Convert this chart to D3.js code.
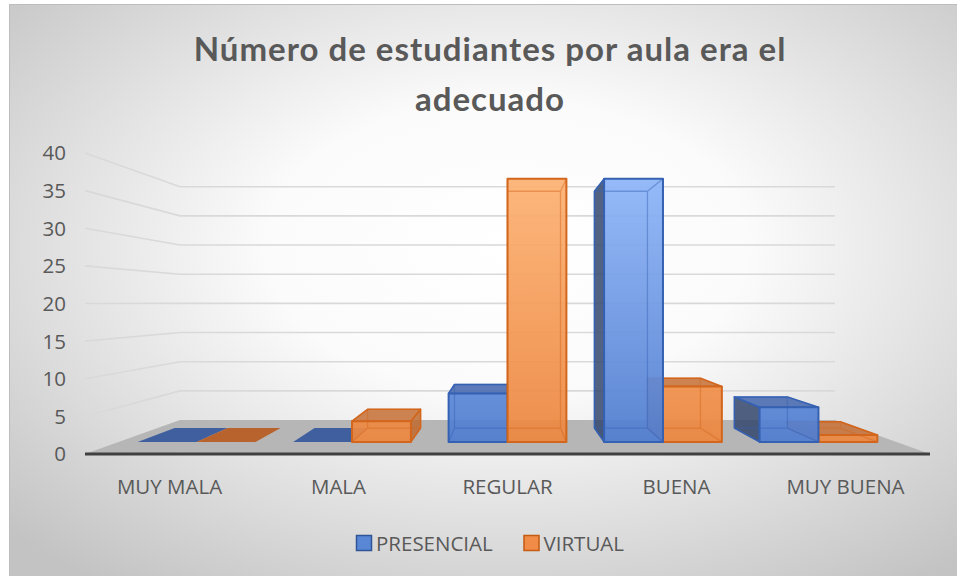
<!DOCTYPE html>
<html>
<head>
<meta charset="utf-8">
<script src="https://cdn.jsdelivr.net/npm/d3@7"></script>
<style>
  body { margin: 0; background: #fff; }
  svg { display: block; }
</style>
</head>
<body>
<svg id="chart" width="957" height="576"></svg>
<script>
// data
var categories = ["MUY MALA", "MALA", "REGULAR", "BUENA", "MUY BUENA"];
var seriesNames = ["PRESENCIAL", "VIRTUAL"];
var presencial = [0, 0, 7, 38, 5];
var virtual = [0, 3, 38, 8, 1];
var yTicks = [0, 5, 10, 15, 20, 25, 30, 35, 40];
var titleLines = ["Número de estudiantes por aula era el", "adecuado"];

var W = 957, H = 576;
var svg = d3.select("#chart");
var defs = svg.append("defs");

// background
var bg = defs.append("radialGradient").attr("id", "bg")
  .attr("cx", "52%").attr("cy", "42%").attr("r", "72%");
bg.append("stop").attr("offset", "0%").attr("stop-color", "#ffffff");
bg.append("stop").attr("offset", "35%").attr("stop-color", "#fbfbfb");
bg.append("stop").attr("offset", "100%").attr("stop-color", "#c3c3c3");
svg.append("rect").attr("x", 9.5).attr("y", 4.5).attr("width", W).attr("height", H)
  .attr("fill", "url(#bg)").attr("stroke", "#bdbdbd");

var blueGrad = defs.append("linearGradient").attr("id", "blueFront")
  .attr("gradientUnits", "userSpaceOnUse").attr("x1", 0).attr("y1", 175).attr("x2", 0).attr("y2", 445);
blueGrad.append("stop").attr("offset", "0%").attr("stop-color", "#8fb6f9");
blueGrad.append("stop").attr("offset", "100%").attr("stop-color", "#4f7ccf");
var orGrad = defs.append("linearGradient").attr("id", "orFront")
  .attr("gradientUnits", "userSpaceOnUse").attr("x1", 0).attr("y1", 175).attr("x2", 0).attr("y2", 445);
orGrad.append("stop").attr("offset", "0%").attr("stop-color", "#fdb273");
orGrad.append("stop").attr("offset", "100%").attr("stop-color", "#ec863f");

var styles = {
  PRESENCIAL: { front: "url(#blueFront)", side: "#34476c", top: "#4a6db0", stroke: "#3561b3", edge: "#2f5597", flat: "#3f5f9f", legend: "#5a86d6" },
  VIRTUAL: { front: "url(#orFront)", side: "#c06a30", top: "#c9773f", stroke: "#d2661c", edge: "#c55a11", flat: "#b8622e", legend: "#f08c48" }
};

// scales (front plane)
var x = d3.scaleBand().domain(categories).range([85, 930]);
var xs = d3.scaleBand().domain(seriesNames).range([0, x.bandwidth()]).paddingOuter(0.32);
var y = d3.scaleLinear().domain([0, 40]).range([454, 153]);
// depth: 0 = front edge of floor, 1 = back wall
var depth = d3.scaleLinear().domain([0, 1]).range([0, 0.29]);
var vx = 507.5, vy = 303;
function proj(X, Y, z) {
  var s = 1 / (1 + depth(z));
  return [vx + (X - vx) * s, vy + (Y - vy) * s];
}
var line = d3.line();
var x0 = x.range()[0], x1 = x.range()[1];

// gridlines: back wall + left wall
var grid = svg.append("g").attr("fill", "none").attr("stroke", "#d9d9d9").attr("stroke-width", 1.6);
yTicks.filter(function(t){ return t > 0; }).forEach(function(t){
  grid.append("path").attr("d", line([proj(x0, y(t), 0), proj(x0, y(t), 1), proj(x1, y(t), 1)]));
});

// floor
svg.append("path")
  .attr("d", line([proj(x0, y(0), 0), proj(x1, y(0), 0), proj(x1, y(0), 1), proj(x0, y(0), 1)]) + "Z")
  .attr("fill", "#b6b6b6");
svg.append("line").attr("x1", x0).attr("x2", x1).attr("y1", y(0)).attr("y2", y(0))
  .attr("stroke", "#404040").attr("stroke-width", 3);

// bars
var zF = 0.3, zB = 0.716;
var bars = [];
categories.forEach(function(c, i){
  [presencial, virtual].forEach(function(vals, k){
    var s = seriesNames[k];
    var L = x(c) + xs(s), R = L + xs.bandwidth();
    bars.push({ name: s, v: vals[i], L: L, R: R, dist: Math.abs((L + R) / 2 - vx) });
  });
});
bars.sort(function(a, b){ return b.dist - a.dist; });

var gBars = svg.append("g").attr("stroke-linejoin", "round");
bars.forEach(function(b){
  var st = styles[b.name];
  var Yb = y(0), Yt = y(b.v);
  var fbl = proj(b.L, Yb, zF), fbr = proj(b.R, Yb, zF), ftl = proj(b.L, Yt, zF), ftr = proj(b.R, Yt, zF);
  var bbl = proj(b.L, Yb, zB), bbr = proj(b.R, Yb, zB), btl = proj(b.L, Yt, zB), btr = proj(b.R, Yt, zB);
  var g = gBars.append("g");
  if (b.v === 0) {
    g.append("path").attr("d", line([fbl, fbr, bbr, bbl]) + "Z").attr("fill", st.flat);
    return;
  }
  // side face
  if (b.R < vx) {
    g.append("path").attr("d", line([fbr, ftr, btr, bbr]) + "Z")
      .attr("fill", st.side).attr("fill-opacity", 0.85).attr("stroke", st.stroke).attr("stroke-width", 1.5);
  } else if (b.L > vx) {
    g.append("path").attr("d", line([fbl, ftl, btl, bbl]) + "Z")
      .attr("fill", st.side).attr("fill-opacity", 0.85).attr("stroke", st.stroke).attr("stroke-width", 1.5);
  }
  // top face when below eye level
  if (Yt > vy) {
    g.append("path").attr("d", line([ftl, ftr, btr, btl]) + "Z")
      .attr("fill", st.top).attr("fill-opacity", 0.9).attr("stroke", st.stroke).attr("stroke-width", 1.5);
  }
  // front face
  g.append("path").attr("d", line([fbl, fbr, ftr, ftl]) + "Z")
    .attr("fill", st.front).attr("fill-opacity", 0.93);
  // hidden edges seen through
  g.append("path").attr("d", line([bbl, bbr, btr, btl]) + "Z" +
      "M" + fbl + "L" + bbl + "M" + fbr + "L" + bbr + "M" + ftl + "L" + btl + "M" + ftr + "L" + btr)
    .attr("fill", "none").attr("stroke", st.stroke).attr("stroke-opacity", 0.45).attr("stroke-width", 1.3);
  g.append("path").attr("d", line([fbl, fbr, ftr, ftl]) + "Z")
    .attr("fill", "none").attr("stroke", st.stroke).attr("stroke-width", 2);
});

var font = "Open Sans, sans-serif";
var fs = 20.5;

// y tick labels
svg.append("g").selectAll("text").data(yTicks).join("text")
  .attr("x", 66).attr("y", function(d){ return y(d); }).attr("dy", "0.36em")
  .attr("text-anchor", "end").attr("fill", "#595959")
  .attr("font-family", font).attr("font-size", fs)
  .text(function(d){ return d; });

// category labels
svg.append("g").selectAll("text").data(categories).join("text")
  .attr("x", function(d){ return x(d) + x.bandwidth() / 2; }).attr("y", 494)
  .attr("text-anchor", "middle").attr("fill", "#595959")
  .attr("font-family", font).attr("font-size", fs)
  .text(function(d){ return d; });

// title
svg.append("g").selectAll("text").data(titleLines).join("text")
  .attr("x", 490).attr("y", function(d, i){ return 61 + i * 50; })
  .attr("text-anchor", "middle").attr("fill", "#595959")
  .attr("font-family", "Lato, sans-serif").attr("font-weight", "bold").attr("font-size", 33)
  .attr("letter-spacing", 1)
  .text(function(d){ return d; });

// legend
var legX = [356, 523.5];
var leg = svg.append("g").selectAll("g").data(seriesNames).join("g")
  .attr("transform", function(d, i){ return "translate(" + legX[i] + ",535)"; });
leg.append("rect").attr("x", 0.5).attr("y", 0.5).attr("width", 15).attr("height", 15)
  .attr("fill", function(d){ return styles[d].legend; })
  .attr("stroke", function(d){ return styles[d].edge; }).attr("stroke-width", 1.5);
leg.append("text").attr("x", 20).attr("y", 15.5).attr("fill", "#595959")
  .attr("font-family", font).attr("font-size", fs)
  .text(function(d){ return d; });
</script>
</body>
</html>
